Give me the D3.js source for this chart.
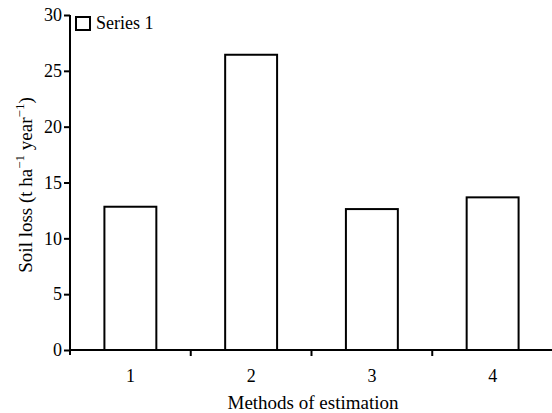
<!DOCTYPE html>
<html>
<head>
<meta charset="utf-8">
<script src="https://cdn.jsdelivr.net/npm/d3@7"></script>
<style>
  body { margin: 0; background: #fff; }
  text { font-family: "Liberation Serif", "Times New Roman", serif; fill: #000; }
</style>
</head>
<body>
<div id="wrapper"></div>
<script>
const methods = ["1", "2", "3", "4"]
const soilLoss = [12.83, 26.44, 12.62, 13.67]
const yTicks = [0, 5, 10, 15, 20, 25, 30]
const seriesName = "Series 1"

const dimensions = {
  width: 552,
  height: 413,
  margin: { top: 15, right: 0, bottom: 63, left: 70 }
}
dimensions.boundedWidth = 483
dimensions.boundedHeight = dimensions.height - dimensions.margin.top - dimensions.margin.bottom

const svg = d3.select("#wrapper")
  .append("svg")
    .attr("width", dimensions.width)
    .attr("height", dimensions.height)

const bounds = svg.append("g")
  .attr("transform", `translate(${dimensions.margin.left},${dimensions.margin.top})`)

const xScale = d3.scaleBand()
  .domain(methods)
  .range([0, dimensions.boundedWidth])
  .paddingInner(0.57)
  .paddingOuter(0.285)

const yScale = d3.scaleLinear()
  .domain([0, 30])
  .range([dimensions.boundedHeight, 0])

// bars
bounds.selectAll(".bar")
  .data(soilLoss)
  .join("rect")
    .attr("class", "bar")
    .attr("x", (d, i) => xScale(methods[i]))
    .attr("y", d => yScale(d))
    .attr("width", xScale.bandwidth())
    .attr("height", d => dimensions.boundedHeight - yScale(d))
    .attr("fill", "#fff")
    .attr("stroke", "#000")
    .attr("stroke-width", 2)

// y axis
const yAxis = bounds.append("g")
  .call(d3.axisLeft(yScale).tickValues(yTicks).tickSize(6).tickPadding(2))
  .attr("font-family", "Liberation Serif")
  .attr("font-size", 18)
yAxis.select(".domain").attr("stroke-width", 2).attr("d", `M0,${dimensions.boundedHeight + 5}V0`)
yAxis.selectAll(".tick line").attr("stroke-width", 2)

// x axis, ticks at band boundaries
const xAxis = bounds.append("g")
  .attr("transform", `translate(0,${dimensions.boundedHeight})`)
xAxis.append("line")
  .attr("x1", 0).attr("x2", dimensions.boundedWidth)
  .attr("stroke", "#000").attr("stroke-width", 2)
const step = xScale.step()
xAxis.selectAll(".xtick")
  .data(d3.range(1, methods.length))
  .join("line")
    .attr("x1", i => i * step).attr("x2", i => i * step)
    .attr("y1", -1).attr("y2", 6)
    .attr("stroke", "#000").attr("stroke-width", 2)
xAxis.selectAll(".xlabel")
  .data(methods)
  .join("text")
    .attr("x", d => xScale(d) + xScale.bandwidth() / 2)
    .attr("y", 32)
    .attr("text-anchor", "middle")
    .attr("font-size", 18)
    .text(d => d)

// axis labels
svg.append("text")
  .attr("x", 313)
  .attr("y", 409)
  .attr("text-anchor", "middle")
  .attr("font-size", 19)
  .text("Methods of estimation")

const yLabel = svg.append("text")
  .attr("transform", "translate(32,185) rotate(-90)")
  .attr("text-anchor", "middle")
  .attr("font-size", 19)
yLabel.append("tspan").text("Soil loss (t ha")
yLabel.append("tspan").attr("dy", -8).attr("font-size", 13).text("\u22121")
yLabel.append("tspan").attr("dy", 8).text(" year")
yLabel.append("tspan").attr("dy", -8).attr("font-size", 13).text("\u22121")
yLabel.append("tspan").attr("dy", 8).text(")")

// legend
const legend = svg.append("g").attr("transform", "translate(76,17)")
legend.append("rect")
  .attr("width", 14).attr("height", 13)
  .attr("fill", "#fff").attr("stroke", "#000").attr("stroke-width", 2)
legend.append("text")
  .attr("x", 20).attr("y", 12)
  .attr("font-size", 18)
  .text(seriesName)
</script>
</body>
</html>
